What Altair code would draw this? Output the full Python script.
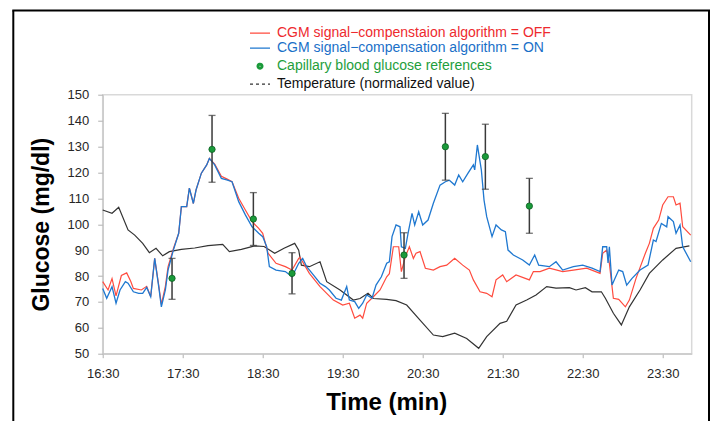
import altair as alt
import pandas as pd

# ---------------- data ----------------
off_time = ["16:30","16:34","16:37","16:40","16:44","16:48","16:51","16:53","16:59","17:03","17:06","17:09","17:12","17:14","17:17","17:19","17:23","17:27","17:29","17:33","17:35","17:38","17:40","17:44","17:48","17:50","17:54","17:59","18:03","18:07","18:12","18:17","18:22","18:27","18:30","18:34","18:40","18:47","18:52","18:57","18:58","19:05","19:13","19:18","19:23","19:30","19:35","19:39","19:43","19:45","19:48","19:53","19:58","20:03","20:05","20:08","20:12","20:14","20:17","20:20","20:23","20:25","20:28","20:32","20:38","20:43","20:48","20:54","21:00","21:05","21:08","21:13","21:18","21:22","21:25","21:30","21:33","21:40","21:50","21:53","21:58","22:05","22:15","22:23","22:33","22:43","22:45","22:48","22:50","22:53","22:57","23:02","23:05","23:10","23:17","23:20","23:23","23:27","23:30","23:34","23:38","23:40","23:43","23:45","23:51"]
off_val = [77.8,74.6,79.0,72.3,80.2,81.2,78.0,75.2,74.6,76.0,72.0,86.8,76.5,69.0,76.0,83.5,90.5,96.5,106.8,106.8,113.9,108.0,113.2,119.7,122.9,125.4,123.2,118.5,117.5,116.4,110.0,105.5,101.0,98.4,96.5,88.8,84.9,83.6,82.3,86.8,87.2,81.0,75.9,73.3,70.7,68.8,69.5,63.7,64.9,63.7,69.5,72.0,74.6,79.7,80.9,91.3,91.3,81.7,87.5,91.3,86.8,88.8,89.4,83.0,82.3,83.6,84.2,86.8,84.2,82.3,78.5,73.9,73.3,72.0,78.5,80.4,77.8,80.4,78.5,81.7,81.7,83.0,81.7,82.3,83.0,81.0,88.8,90.0,84.9,71.4,71.0,68.1,70.7,79.1,88.8,92.6,98.4,101.6,107.4,110.6,110.6,107.4,108.1,99.0,95.8]

on_time = ["16:30","16:33","16:37","16:40","16:43","16:47","16:49","16:53","16:57","17:00","17:03","17:06","17:09","17:12","17:14","17:17","17:19","17:23","17:27","17:29","17:33","17:35","17:38","17:40","17:44","17:48","17:50","17:54","17:59","18:03","18:07","18:12","18:17","18:22","18:27","18:30","18:33","18:35","18:40","18:47","18:52","18:57","19:00","19:03","19:08","19:13","19:17","19:20","19:25","19:29","19:33","19:35","19:39","19:42","19:45","19:48","19:52","19:55","19:59","20:03","20:05","20:07","20:10","20:13","20:14","20:17","20:19","20:22","20:24","20:27","20:30","20:34","20:38","20:43","20:47","20:50","20:54","20:57","21:00","21:04","21:08","21:09","21:11","21:14","21:16","21:18","21:22","21:25","21:29","21:32","21:34","21:38","21:45","21:50","21:54","21:57","22:05","22:10","22:15","22:23","22:30","22:37","22:43","22:45","22:48","22:49","22:50","22:52","22:57","23:00","23:03","23:07","23:13","23:19","23:23","23:25","23:29","23:33","23:34","23:38","23:40","23:43","23:45","23:51"]
on_val = [75.2,71.4,75.9,69.5,74.6,77.8,77.2,73.9,73.3,73.3,75.6,72.0,86.8,75.9,68.1,74.6,82.3,90.0,96.5,106.8,106.8,113.9,108.0,113.2,119.7,122.9,125.4,122.9,117.7,117.1,116.4,108.7,103.6,99.0,96.5,95.2,91.3,83.6,82.3,81.7,79.7,84.9,86.8,83.6,80.4,77.2,75.9,74.6,71.4,70.7,75.9,70.7,70.1,67.5,69.5,72.7,71.4,76.5,79.7,84.9,85.5,95.2,99.7,99.0,91.3,90.7,96.5,104.2,99.7,104.8,99.7,101.6,108.1,115.1,116.4,117.0,115.1,119.0,116.4,119.7,122.9,121.0,130.6,120.9,109.3,102.9,95.2,99.7,97.8,97.1,90.0,88.1,86.2,84.2,88.1,84.2,83.6,85.5,82.3,83.6,84.2,83.0,81.7,91.3,91.3,85.0,91.3,76.5,82.3,81.7,76.5,79.1,82.3,84.2,93.9,93.3,100.3,99.0,102.9,101.0,96.5,99.7,91.3,85.5]

temp_time = ["16:30","16:37","16:42","16:49","16:54","17:00","17:05","17:10","17:15","17:20","17:29","17:39","17:49","18:00","18:05","18:14","18:24","18:31","18:39","18:46","18:54","18:57","18:59","19:05","19:13","19:18","19:28","19:38","19:43","19:49","19:53","20:03","20:10","20:18","20:28","20:38","20:45","20:54","21:03","21:12","21:18","21:28","21:33","21:40","21:48","21:55","22:03","22:10","22:20","22:25","22:32","22:37","22:44","22:47","22:53","22:59","23:05","23:13","23:20","23:30","23:40","23:50"]
temp_val = [105.5,104.2,106.5,97.8,95.8,92.6,89.0,90.7,87.8,89.4,90.3,90.8,91.7,92.2,89.4,90.3,91.6,91.4,88.8,90.7,92.6,90.0,84.2,83.6,85.5,77.8,74.6,70.7,71.3,73.3,71.3,71.0,70.5,68.8,63.0,57.2,56.6,57.9,55.9,52.1,56.6,61.7,62.5,68.8,70.7,72.7,75.9,75.3,75.5,74.6,75.5,73.9,73.9,71.4,65.6,61.1,68.1,74.6,81.0,86.2,90.7,91.6]

ref_time = ["17:22","17:52","18:23","18:52","20:16","20:47","21:17","21:50"]
ref_val = [79.1,128.9,102.0,81.0,88.1,129.9,126.1,107.0]
ref_lo = [71.0,116.2,91.8,73.1,79.1,117.0,113.5,96.5]
ref_hi = [86.8,142.0,112.2,89.0,96.7,142.8,138.6,117.7]

SERIES = ["CGM signal\u2212compenstaion algorithm = OFF",
          "CGM signal\u2212compensation algorithm = ON",
          "Capillary blood glucose references",
          "Temperature (normalized value)"]
LINE_COLORS = ["#ff4b3e", "#1f78d0", "#1a9a3a", "#333333"]
LABEL_COLORS = ["#ee2a2e", "#1a70c8", "#1e9e3c", "#111111"]
TICK_HOURS = [16, 17, 18, 19, 20, 21, 22, 23]
Y_TICKS = [50, 60, 70, 80, 90, 100, 110, 120, 130, 140, 150]


def ts(times):
    return pd.to_datetime(["2020-01-01 " + t for t in times])


off_df = pd.DataFrame({"time": ts(off_time), "value": off_val, "series": SERIES[0]})
on_df = pd.DataFrame({"time": ts(on_time), "value": on_val, "series": SERIES[1]})
temp_df = pd.DataFrame({"time": ts(temp_time), "value": temp_val, "series": SERIES[3]})
ref_df = pd.DataFrame({"time": ts(ref_time), "value": ref_val, "lo": ref_lo, "hi": ref_hi})
frame_df = pd.DataFrame({"k": [0]})

# ---------------- encodings ----------------
def dt(h, m, s=0):
    return alt.DateTime(year=2020, month=1, date=1, hours=h, minutes=m, seconds=s)

x_scale = alt.Scale(domain=[dt(16, 30), dt(23, 51, 45)])
x_axis = alt.Axis(values=[dt(h, 30) for h in TICK_HOURS], format="%H:%M", formatType="time",
                  title="Time (min)", titleFontSize=24, titlePadding=10, titleX=283.5,
                  tickSize=4, labelPadding=10, labelFlush=False, labelOverlap=False)
y_scale = alt.Scale(domain=[50, 150], nice=False, zero=False)
y_axis = alt.Axis(values=Y_TICKS, title="Glucose (mg/dl)", titleFontSize=23,
                  titlePadding=14, tickSize=5, labelPadding=9, labelOverlap=False,
                  labelFlush=False)

X = alt.X("time:T", scale=x_scale, axis=x_axis)


def Yf(field):
    return alt.Y(f"{field}:Q", scale=y_scale, axis=y_axis)


def expr_by_index(vals):
    parts = [f"datum.index == {i} ? '{v}' : " for i, v in enumerate(vals[:-1])]
    return "".join(parts) + f"'{vals[-1]}'"


legend = alt.Legend(
    orient="none", legendX=150.3, legendY=-68.5, title=None,
    labelFont="Liberation Sans", labelFontSize=14, labelOffset=10, labelLimit=500,
    rowPadding=1,
    labelColor={"expr": expr_by_index(LABEL_COLORS)},
    symbolType={"expr": "datum.index == 2 ? 'circle' : 'M-2,0L2,0'"},
    symbolSize={"expr": "datum.index == 2 ? 9 : 100"},
    symbolStrokeWidth={"expr": "datum.index == 2 ? 4 : 1.3"},
    symbolDash={"expr": "datum.index == 3 ? [3, 3] : [1, 0]"},
)
color = alt.Color("series:N", scale=alt.Scale(domain=SERIES, range=LINE_COLORS), legend=legend)

temp_line = alt.Chart(temp_df).mark_line(strokeWidth=1.2).encode(x=X, y=Yf("value"), color=color)
off_line = alt.Chart(off_df).mark_line(strokeWidth=1.2).encode(x=X, y=Yf("value"), color=color)
on_line = alt.Chart(on_df).mark_line(strokeWidth=1.3).encode(x=X, y=Yf("value"), color=color)

err_rule = alt.Chart(ref_df).mark_rule(color="#3a3a3a", strokeWidth=1.5).encode(
    x=X, y=Yf("lo"), y2="hi:Q")
cap_lo = alt.Chart(ref_df).mark_tick(color="#3a3a3a", orient="horizontal", size=7, thickness=1.3).encode(
    x=X, y=Yf("lo"))
cap_hi = alt.Chart(ref_df).mark_tick(color="#3a3a3a", orient="horizontal", size=7, thickness=1.3).encode(
    x=X, y=Yf("hi"))
ref_pts = alt.Chart(ref_df).mark_circle(size=40, color="#1a9a3a", stroke="#0d5f22",
                                        strokeWidth=0.8, opacity=1).encode(x=X, y=Yf("value"))

# decorative black frame of the original figure
frame_left = alt.Chart(frame_df).mark_rule(color="black", strokeWidth=2).encode(
    x=alt.value(-89.4), y=alt.value(-84.2), y2=alt.value(330))
frame_right = alt.Chart(frame_df).mark_rule(color="black", strokeWidth=2).encode(
    x=alt.value(606.3), y=alt.value(-84.2), y2=alt.value(330))
frame_top = alt.Chart(frame_df).mark_rule(color="black", strokeWidth=2).encode(
    x=alt.value(-90.4), x2=alt.value(607.3), y=alt.value(-84.2))

chart = alt.layer(
    temp_line, off_line, on_line, err_rule, cap_lo, cap_hi, ref_pts,
    frame_left, frame_right, frame_top,
).properties(
    width=589, height=259,
    autosize=alt.AutoSizeParams(type="none"),
    padding={"left": 102.7, "top": 94.7, "right": 20.3, "bottom": 67.3},
).configure_view(
    stroke="#d9d9d9", strokeWidth=1.5,
).configure_axis(
    grid=False, domainColor="#c4c4c4", domainWidth=1.2, tickColor="#b0b0b0",
    labelFont="Liberation Sans", labelFontSize=13, labelColor="#262626",
    titleFont="Liberation Sans", titleFontWeight="bold", titleColor="#000000",
)

chart.save("out.html", embed_options={"renderer": "svg", "actions": False})
